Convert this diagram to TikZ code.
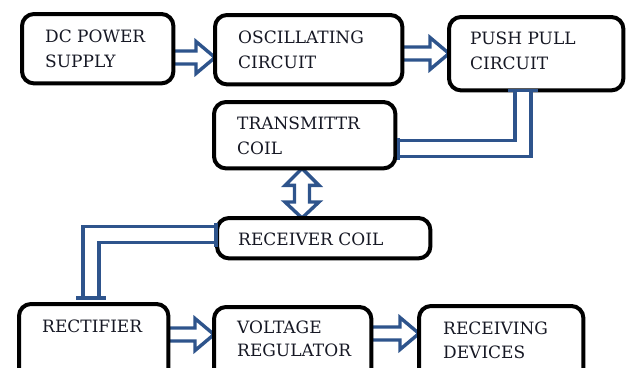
\documentclass[tikz,border=0pt]{standalone}
\usepackage{fontspec}
\setmainfont{DejaVu Serif}
\usetikzlibrary{calc}
\definecolor{pipeblue}{RGB}{46,84,140}
\definecolor{txt}{RGB}{22,24,36}
\newcommand\harrow[3]{%
  \coordinate (s) at (#1.east |- 0,#3);
  \coordinate (t) at (#2.west |- 0,#3);
  \draw[blockarr] ([yshift=6.5pt]s) -- ([xshift=-19pt,yshift=6.5pt]t) -- ([xshift=-19pt,yshift=16pt]t) -- (t)
    -- ([xshift=-19pt,yshift=-16pt]t) -- ([xshift=-19pt,yshift=-6.5pt]t) -- ([yshift=-6.5pt]s) -- cycle;}
\begin{document}
\begin{tikzpicture}[x=1pt,y=-1pt,
  box/.style={anchor=north west, inner sep=0pt, draw=none, fill=none},
  boxline/.style={draw=black, line width=4pt, rounded corners=12pt, fill=white},
  txtline/.style={anchor=base west, inner sep=0pt, text=txt, font=\fontsize{17}{24}\selectfont},
  blockarr/.style={draw=pipeblue, line width=3.4pt, fill=white, line join=miter},
  pipe/.style={draw=pipeblue, line width=3.4pt, double=white, double distance=12.5pt, line join=miter},
  endbar/.style={draw=pipeblue, line width=3.4pt}]
\useasboundingbox (0,0) rectangle (629,367);
\clip (0,0) rectangle (629,367);
% box frames as named nodes
\path (22,14) node[box, minimum width=151pt, minimum height=69pt] (dc) {};
\path (215,15) node[box, minimum width=187pt, minimum height=69pt] (osc) {};
\path (449,17) node[box, minimum width=174pt, minimum height=73pt] (push) {};
\path (214,102) node[box, minimum width=181pt, minimum height=66pt] (trans) {};
\path (217,218) node[box, minimum width=213pt, minimum height=40pt] (recv) {};
\path (19,304) node[box, minimum width=149pt, minimum height=90pt] (rect) {};
\path (214,307) node[box, minimum width=157pt, minimum height=90pt] (vr) {};
\path (419,306) node[box, minimum width=164pt, minimum height=90pt] (rd) {};
% block arrows
\harrow{dc}{osc}{57.5}
\harrow{osc}{push}{53.5}
\harrow{rect}{vr}{334.5}
\harrow{vr}{rd}{333.5}
\coordinate (t1) at (trans.south -| 302,0);
\coordinate (t2) at (recv.north -| 302,0);
\draw[blockarr] (t1) -- ([xshift=17pt,yshift=-17pt]t1) -- ([xshift=7.5pt,yshift=-17pt]t1)
  -- ([xshift=7.5pt,yshift=16pt]t2) -- ([xshift=17pt,yshift=16pt]t2) -- (t2)
  -- ([xshift=-17pt,yshift=16pt]t2) -- ([xshift=-7.5pt,yshift=16pt]t2)
  -- ([xshift=-7.5pt,yshift=-17pt]t1) -- ([xshift=-17pt,yshift=-17pt]t1) -- cycle;
% visible boxes
\foreach \b in {dc,osc,push,trans,recv,rect,vr,rd}
  \draw[boxline] (\b.north west) rectangle (\b.south east);
% pipes
\coordinate (p1) at (push.south -| 523,0);
\coordinate (p2) at ([xshift=3pt]trans.east |- 0,148.5);
\draw[pipe] (p1) -- (523,148.5) -- (p2);
\draw[endbar] ([xshift=-15pt]p1) -- ([xshift=15pt]p1);
\draw[endbar] ([yshift=-11pt]p2) -- ([yshift=11pt]p2);
\coordinate (r1) at ([xshift=-1pt]recv.west |- 0,234.5);
\coordinate (r2) at ([yshift=6pt]rect.north -| 91,0);
\draw[pipe] (r1) -- (91,234.5) -- (r2);
\draw[endbar] ([yshift=-12pt]r1) -- ([yshift=12pt]r1);
\draw[endbar] ([xshift=-15pt]r2) -- ([xshift=15pt]r2);
% texts
\node[txtline] (l1) at (45,42) {DC POWER};
\node[txtline] (l2) at (45,67) {SUPPLY};
\node[txtline] (l3) at (238,43) {OSCILLATING};
\node[txtline] (l4) at (238,68) {CIRCUIT};
\node[txtline] (l5) at (470,44) {PUSH PULL};
\node[txtline] (l6) at (470,69) {CIRCUIT};
\node[txtline] (l7) at (237,129) {TRANSMITTR};
\node[txtline] (l8) at (237,154) {COIL};
\node[txtline] (l9) at (238,245) {RECEIVER COIL};
\node[txtline] (l10) at (42,332) {RECTIFIER};
\node[txtline] (l11) at (237,333) {VOLTAGE};
\node[txtline] (l12) at (237,356) {REGULATOR};
\node[txtline] (l13) at (443,334) {RECEIVING};
\node[txtline] (l14) at (443,358) {DEVICES};
\end{tikzpicture}
\end{document}
